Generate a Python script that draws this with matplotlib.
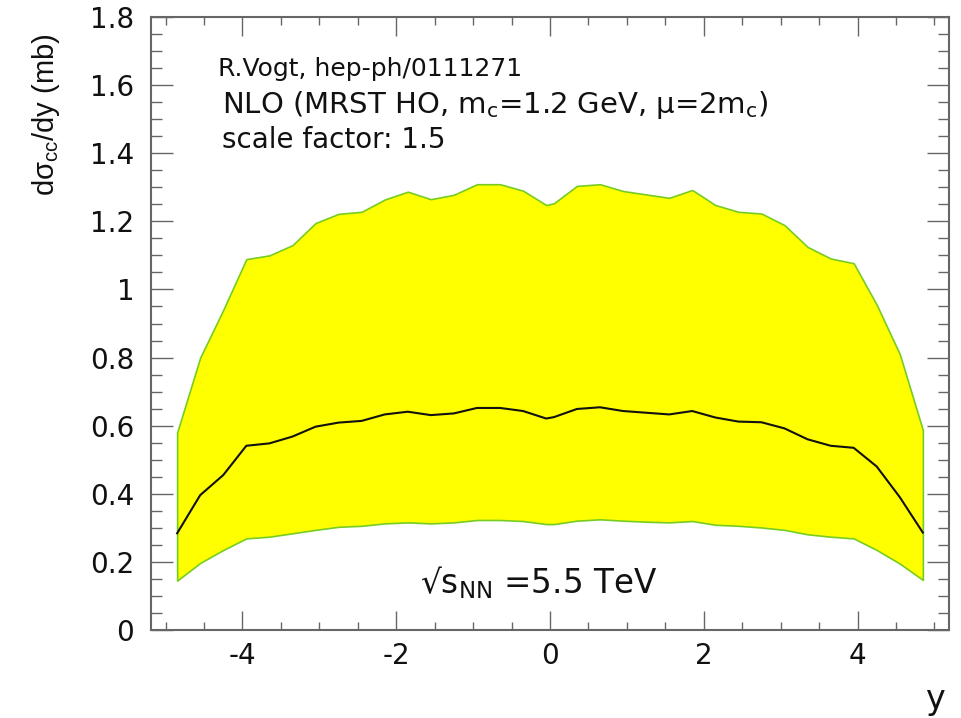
import matplotlib
matplotlib.use("Agg")
import matplotlib.pyplot as plt
from matplotlib.ticker import FixedLocator, MultipleLocator

plt.rcParams['font.family'] = ['DejaVu Sans']
plt.rcParams['mathtext.default'] = 'regular'

# rapidity points
y_pts = [-4.85, -4.55, -4.25, -3.95, -3.65, -3.35, -3.05, -2.75, -2.45, -2.15,
         -1.85, -1.55, -1.25, -0.95, -0.65, -0.35, -0.05,
         0.05, 0.35, 0.65, 0.95, 1.25, 1.55, 1.85, 2.15, 2.45, 2.75, 3.05,
         3.35, 3.65, 3.95, 4.25, 4.55, 4.85]

upper = [0.58, 0.80, 0.94, 1.089, 1.10, 1.13, 1.195, 1.222, 1.228, 1.264,
         1.287, 1.265, 1.278, 1.309, 1.309, 1.29, 1.248,
         1.253, 1.304, 1.309, 1.289, 1.279, 1.269, 1.292, 1.248, 1.228, 1.223,
         1.189, 1.125, 1.091, 1.077, 0.955, 0.81, 0.587]

central = [0.284, 0.396, 0.455, 0.541, 0.548, 0.568, 0.597, 0.609, 0.614, 0.633,
           0.641, 0.631, 0.636, 0.652, 0.652, 0.643, 0.621,
           0.625, 0.649, 0.654, 0.643, 0.638, 0.633, 0.643, 0.624, 0.612, 0.610,
           0.592, 0.560, 0.541, 0.535, 0.48, 0.39, 0.286]

lower = [0.145, 0.197, 0.235, 0.269, 0.274, 0.284, 0.294, 0.303, 0.306, 0.313,
         0.316, 0.313, 0.316, 0.323, 0.323, 0.320, 0.311,
         0.311, 0.321, 0.325, 0.321, 0.318, 0.316, 0.320, 0.309, 0.306, 0.301,
         0.294, 0.281, 0.274, 0.269, 0.235, 0.195, 0.147]

xticks = [-4, -2, 0, 2, 4]
xticklabels = ['-4', '-2', '0', '2', '4']
yticks = [0, 0.2, 0.4, 0.6, 0.8, 1.0, 1.2, 1.4, 1.6, 1.8]
yticklabels = ['0', '0.2', '0.4', '0.6', '0.8', '1', '1.2', '1.4', '1.6', '1.8']

W, H = 961, 718
fig = plt.figure(figsize=(W / 100, H / 100), dpi=100)
ax = fig.add_axes([151 / W, 1 - 630 / H, (949 - 151) / W, (630 - 17) / H])

ax.fill_between(y_pts, lower, upper, facecolor='#ffff00', edgecolor='#77cc22',
                linewidth=1.2, zorder=2)
ax.plot(y_pts, central, color='#111111', linewidth=1.5, zorder=3)

ax.set_xlim(-5.19, 5.19)
ax.set_ylim(0, 1.8)

ax.xaxis.set_major_locator(FixedLocator(xticks))
ax.set_xticklabels(xticklabels)
ax.xaxis.set_minor_locator(MultipleLocator(0.5))
ax.yaxis.set_major_locator(FixedLocator(yticks))
ax.set_yticklabels(yticklabels)
ax.yaxis.set_minor_locator(MultipleLocator(0.05))

gray = '#666666'
for s in ax.spines.values():
    s.set_color(gray)
    s.set_linewidth(1.5)
ax.tick_params(which='both', direction='in', top=True, right=True, color=gray,
               width=1.0, labelcolor='#111111', labelsize=20)
ax.tick_params(axis='y', which='major', length=16, pad=12)
ax.tick_params(axis='y', which='minor', length=8)
ax.tick_params(axis='x', which='major', length=14, pad=9)
ax.tick_params(axis='x', which='minor', length=6)

# annotations
fig.text(218 / W, 1 - 76 / H, 'R.Vogt, hep-ph/0111271', fontsize=18,
         ha='left', va='baseline', color='#111111')
fig.text(222 / W, 1 - 113 / H,
         r'NLO (MRST HO, m$_{c}$=1.2 GeV, μ=2m$_{c}$)', fontsize=21,
         ha='left', va='baseline', color='#111111')
fig.text(222 / W, 1 - 148 / H, 'scale factor: 1.5', fontsize=20,
         ha='left', va='baseline', color='#111111')
fig.text(420 / W, 1 - 593 / H, r'√s$_{NN}$ =5.5 TeV', fontsize=23.5,
         ha='left', va='baseline', color='#111111')

fig.text(46 / W, 1 - 33 / H, r'dσ$_{cc}$/dy (mb)', fontsize=21,
         rotation=90, ha='center', va='top', color='#111111',
         family='Liberation Sans')
fig.text(935 / W, 1 - 700 / H, 'y', fontsize=24, ha='center', va='center',
         color='#111111')

fig.savefig('out.png', dpi=100)
